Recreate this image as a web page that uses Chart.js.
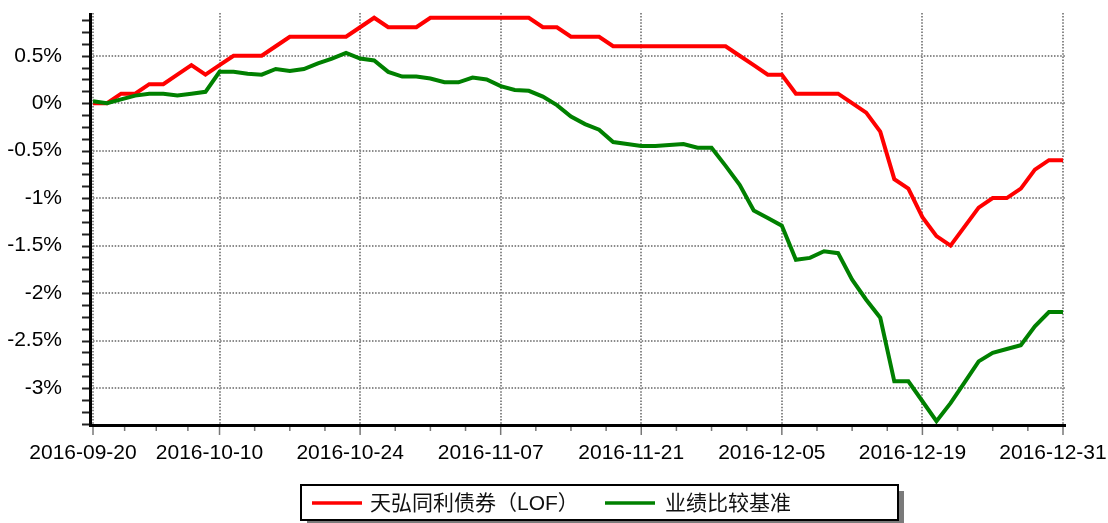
<!DOCTYPE html>
<html>
<head>
<meta charset="utf-8">
<script src="https://cdn.jsdelivr.net/npm/chart.js@4/dist/chart.umd.min.js"></script>
<style>
html,body{margin:0;padding:0;background:#fff;}
#wrap{width:1108px;height:523px;position:relative;}
</style>
</head>
<body>
<div id="wrap"><canvas id="c"></canvas></div>
<script>
// ---- data ----
const dates = [
 '2016-09-20','2016-09-21','2016-09-22','2016-09-23','2016-09-26','2016-09-27','2016-09-28','2016-09-29','2016-09-30',
 '2016-10-10','2016-10-11','2016-10-12','2016-10-13','2016-10-14','2016-10-17','2016-10-18','2016-10-19','2016-10-20','2016-10-21',
 '2016-10-24','2016-10-25','2016-10-26','2016-10-27','2016-10-28','2016-10-31',
 '2016-11-01','2016-11-02','2016-11-03','2016-11-04','2016-11-07','2016-11-08','2016-11-09','2016-11-10','2016-11-11',
 '2016-11-14','2016-11-15','2016-11-16','2016-11-17','2016-11-18','2016-11-21','2016-11-22','2016-11-23','2016-11-24','2016-11-25',
 '2016-11-28','2016-11-29','2016-11-30','2016-12-01','2016-12-02','2016-12-05','2016-12-06','2016-12-07','2016-12-08','2016-12-09',
 '2016-12-12','2016-12-13','2016-12-14','2016-12-15','2016-12-16','2016-12-19','2016-12-20','2016-12-21','2016-12-22','2016-12-23',
 '2016-12-26','2016-12-27','2016-12-28','2016-12-29','2016-12-30','2016-12-31'
];
const fundName = '天弘同利债券（LOF）';
const benchName = '业绩比较基准';
const fundValues = [
 0, 0, 0.1, 0.1, 0.2, 0.2, 0.3, 0.4, 0.3,
 0.4, 0.5, 0.5, 0.5, 0.6, 0.7, 0.7, 0.7, 0.7, 0.7,
 0.8, 0.9, 0.8, 0.8, 0.8, 0.9,
 0.9, 0.9, 0.9, 0.9, 0.9, 0.9, 0.9, 0.8, 0.8,
 0.7, 0.7, 0.7, 0.6, 0.6, 0.6, 0.6, 0.6, 0.6, 0.6,
 0.6, 0.6, 0.5, 0.4, 0.3, 0.3, 0.1, 0.1, 0.1, 0.1,
 0.0, -0.1, -0.3, -0.8, -0.9, -1.2, -1.4, -1.5, -1.3, -1.1,
 -1.0, -1.0, -0.9, -0.7, -0.6, -0.6
];
const benchValues = [
 0.02, 0.0, 0.04, 0.08, 0.1, 0.1, 0.08, 0.1, 0.12,
 0.33, 0.33, 0.31, 0.3, 0.36, 0.34, 0.36, 0.42, 0.47, 0.53,
 0.47, 0.45, 0.33, 0.28, 0.28, 0.26,
 0.22, 0.22, 0.27, 0.25, 0.18, 0.14, 0.13, 0.07, -0.02,
 -0.14, -0.22, -0.28, -0.41, -0.43, -0.45, -0.45, -0.44, -0.43, -0.47,
 -0.47, -0.66, -0.86, -1.13, -1.21, -1.29, -1.65, -1.63, -1.56, -1.58,
 -1.86, -2.07, -2.26, -2.93, -2.93, -3.14, -3.35, -3.16, -2.94, -2.72,
 -2.63, -2.59, -2.55, -2.35, -2.2, -2.2
];
const xTickLabels = ['2016-09-20','2016-10-10','2016-10-24','2016-11-07','2016-11-21','2016-12-05','2016-12-19','2016-12-31'];
const yTickValues = [0.5, 0, -0.5, -1, -1.5, -2, -2.5, -3];

// ---- styling ----
const FONT = '"Liberation Sans", Arial, "Noto Sans CJK SC", sans-serif';
const GRID = '#8a8a8a';
const xTickIdx = xTickLabels.map(d => dates.indexOf(d));

function zeroPad(s) { s.paddingLeft = 0; s.paddingRight = 0; s.paddingTop = 0; s.paddingBottom = 0; }

const gridPlugin = {
  id: 'gridPlugin',
  beforeDatasetsDraw(chart) {
    const ctx = chart.ctx;
    const a = chart.chartArea;
    const xs = chart.scales.x, ys = chart.scales.y;
    ctx.save();
    ctx.strokeStyle = GRID;
    ctx.lineWidth = 2;
    ctx.setLineDash([1.5, 1.6]);
    yTickValues.forEach(v => {
      const y = Math.round(ys.getPixelForValue(v));
      ctx.beginPath(); ctx.moveTo(a.left, y); ctx.lineTo(a.right + 2, y); ctx.stroke();
    });
    xTickIdx.forEach(i => {
      const x = Math.round(xs.getPixelForValue(i));
      ctx.beginPath(); ctx.moveTo(x, a.top); ctx.lineTo(x, a.bottom); ctx.stroke();
    });
    ctx.restore();
  }
};

const axesPlugin = {
  id: 'axesPlugin',
  afterDraw(chart) {
    const ctx = chart.ctx;
    const a = chart.chartArea;
    const xs = chart.scales.x, ys = chart.scales.y;
    ctx.save();
    // y minor ticks
    ctx.strokeStyle = '#222';
    ctx.lineWidth = 2;
    for (let v = Math.ceil(ys.min / 0.125) * 0.125; v <= ys.max + 1e-9; v += 0.125) {
      const y = Math.round(ys.getPixelForValue(v)) + 0.5;
      ctx.beginPath(); ctx.moveTo(a.left - 11, y); ctx.lineTo(a.left - 3, y); ctx.stroke();
    }
    // x ticks
    ctx.strokeStyle = '#777';
    ctx.lineWidth = 1.5;
    for (let i = 0; i < xTickIdx.length; i++) {
      const x0 = xs.getPixelForValue(xTickIdx[i]);
      ctx.beginPath(); ctx.moveTo(x0, a.bottom); ctx.lineTo(x0, a.bottom + 10); ctx.stroke();
      if (i < xTickIdx.length - 1) {
        for (let k = 1; k < 4; k++) {
          const xv = xs.getPixelForValue(xTickIdx[i] + k * (xTickIdx[i + 1] - xTickIdx[i]) / 4);
          ctx.beginPath(); ctx.moveTo(xv, a.bottom); ctx.lineTo(xv, a.bottom + 6); ctx.stroke();
        }
      }
    }
    // axis lines
    ctx.strokeStyle = '#000';
    ctx.lineWidth = 3;
    ctx.beginPath(); ctx.moveTo(a.left - 2.5, a.top); ctx.lineTo(a.left - 2.5, a.bottom + 1.5); ctx.stroke();
    ctx.beginPath(); ctx.moveTo(a.left - 4, a.bottom + 0.5); ctx.lineTo(a.right + 3, a.bottom + 0.5); ctx.stroke();

    // legend
    const bx = 301, by = 485, bw = 597, bh = 35;
    ctx.fillStyle = '#7a7a7a';
    ctx.fillRect(bx + 6, by + 6, bw, bh);
    ctx.fillStyle = '#fff';
    ctx.fillRect(bx, by, bw, bh);
    ctx.strokeStyle = '#000';
    ctx.lineWidth = 2;
    ctx.strokeRect(bx, by, bw, bh);
    const ds = chart.data.datasets;
    const items = [{x: 312, tx: 370}, {x: 605, tx: 665}];
    ctx.font = '21px ' + FONT;
    ctx.textBaseline = 'middle';
    ctx.textAlign = 'left';
    items.forEach((it, i) => {
      const d = ds[i];
      ctx.strokeStyle = d.borderColor;
      ctx.lineWidth = 3.5;
      ctx.beginPath(); ctx.moveTo(it.x, by + 18); ctx.lineTo(it.x + 50, by + 18); ctx.stroke();
      ctx.fillStyle = '#111';
      ctx.fillText(d.label, it.tx, by + 19);
    });
    ctx.restore();
  }
};

new Chart(document.getElementById('c'), {
  type: 'line',
  data: {
    labels: dates,
    datasets: [
      { label: fundName, data: fundValues, borderColor: '#ff0000', borderWidth: 4, pointRadius: 0, tension: 0, fill: false, order: 1 },
      { label: benchName, data: benchValues, borderColor: '#008000', borderWidth: 4, pointRadius: 0, tension: 0, fill: false, order: 0 }
    ]
  },
  options: {
    responsive: true,
    maintainAspectRatio: false,
    animation: false,
    events: [],
    layout: { padding: { top: 13, right: 45, left: 0, bottom: 0 } },
    plugins: { legend: { display: false }, tooltip: { enabled: false } },
    scales: {
      x: {
        type: 'category',
        offset: false,
        afterFit(s) { s.height = 98; zeroPad(s); },
        border: { display: false },
        grid: { display: false, drawTicks: false },
        ticks: {
          autoSkip: false,
          maxRotation: 0,
          padding: 16,
          labelOffset: -10,
          color: '#000',
          font: { family: FONT, size: 21 },
          callback: function (v, i) { return xTickIdx.includes(i) ? dates[i] : ''; }
        }
      },
      y: {
        min: -3.39,
        max: 0.95,
        afterFit(s) { s.width = 93; zeroPad(s); },
        afterBuildTicks(s) { s.ticks = yTickValues.map(v => ({ value: v })); },
        border: { display: false },
        grid: { display: false, drawTicks: false },
        ticks: {
          padding: 31,
          color: '#000',
          font: { family: FONT, size: 21 },
          callback: v => (Math.round(v * 10) / 10) + '%'
        }
      }
    }
  },
  plugins: [gridPlugin, axesPlugin]
});
</script>
</body>
</html>
